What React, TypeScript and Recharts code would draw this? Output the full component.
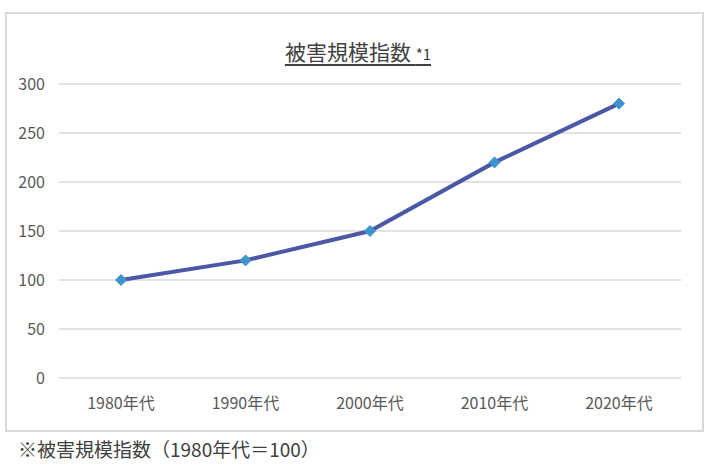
import React from 'react';
import { LineChart, Line, XAxis, YAxis, CartesianGrid } from 'recharts';

const decades = ['1980年代', '1990年代', '2000年代', '2010年代', '2020年代'];
const damageIndex = [100, 120, 150, 220, 280];
const yTicks = [0, 50, 100, 150, 200, 250, 300];

const data = decades.map((name, i) => ({ name, value: damageIndex[i] }));

const FONT = '"Noto Sans CJK JP", "Noto Sans", sans-serif';

function Diamond(props: any) {
  const { cx, cy } = props;
  if (cx == null || cy == null) return null;
  const r = 5.5;
  return (
    <path
      d={`M${cx},${cy - r} L${cx + r},${cy} L${cx},${cy + r} L${cx - r},${cy} Z`}
      fill="#3d94cf"
      stroke="#3d94cf"
      strokeWidth={1}
    />
  );
}

export default function App() {
  return (
    <div
      style={{
        position: 'absolute',
        left: 0,
        top: 0,
        width: 710,
        height: 474,
        background: '#fff',
        fontFamily: FONT,
      }}
    >
      <div
        style={{
          position: 'absolute',
          left: 5,
          top: 12,
          width: 695,
          height: 416,
          border: '2px solid #d9d9d9',
        }}
      />
      <div
        style={{
          position: 'absolute',
          left: 0,
          width: 716,
          top: 36,
          textAlign: 'center',
          color: '#404040',
          fontSize: 21,
          lineHeight: '30px',
        }}
      >
        <span style={{ textDecoration: 'underline', textUnderlineOffset: 4 }}>
          被害規模指数 <span style={{ fontSize: 15 }}>*1</span>
        </span>
      </div>
      <LineChart
        width={710}
        height={474}
        data={data}
        margin={{ top: 84, right: 29, bottom: 66, left: 0 }}
        style={{ position: 'absolute', left: 0, top: 0 }}
      >
        <CartesianGrid vertical={false} stroke="#d9d9d9" strokeWidth={1.5} />
        <XAxis
          dataKey="name"
          axisLine={false}
          tickLine={false}
          padding={{ left: 62, right: 62 }}
          tick={{ fill: '#595959', fontSize: 16, fontFamily: FONT }}
          tickMargin={14}
          height={30}
        />
        <YAxis
          domain={[0, 300]}
          ticks={yTicks}
          axisLine={false}
          tickLine={false}
          width={59}
          tick={{ fill: '#595959', fontSize: 16, fontFamily: FONT }}
          tickMargin={8}
        />
        <Line
          dataKey="value"
          stroke="#4a58a6"
          strokeWidth={4}
          dot={<Diamond />}
          activeDot={false}
          isAnimationActive={false}
        />
      </LineChart>
      <div
        style={{
          position: 'absolute',
          left: 18,
          top: 436,
          color: '#404040',
          fontSize: 19,
          lineHeight: '26px',
          whiteSpace: 'nowrap',
        }}
      >
        ※被害規模指数（1980年代＝100）
      </div>
    </div>
  );
}
